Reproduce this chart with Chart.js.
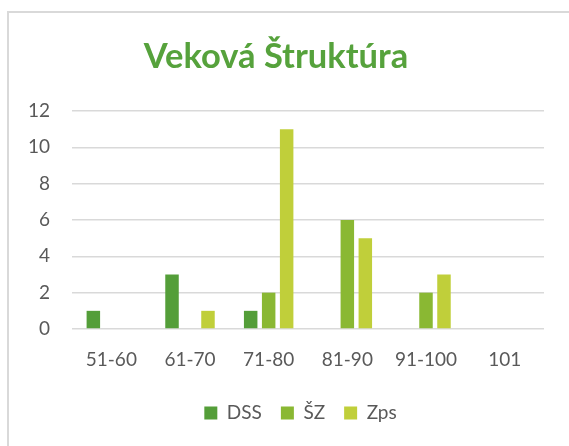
<!DOCTYPE html>
<html>
<head>
<meta charset="utf-8">
<script src="https://cdn.jsdelivr.net/npm/chart.js@4/dist/chart.umd.min.js"></script>
<style>
  html, body { margin: 0; padding: 0; background: #fff; }
  #wrap { position: relative; width: 569px; height: 446px; overflow: hidden; }
  #frame { position: absolute; left: 7px; top: 11px; width: 600px; height: 500px;
           border-top: 2px solid #D9D9D9; border-left: 2px solid #D9D9D9; box-sizing: border-box; }
  canvas { position: absolute; left: 0; top: 0; }
</style>
</head>
<body>
<div id="wrap">
  <div id="frame"></div>
  <canvas id="c" width="569" height="446"></canvas>
</div>
<script>
const chartTitle = "Veková Štruktúra";
const categories = ["51-60", "61-70", "71-80", "81-90", "91-100", "101"];
const seriesNames = ["DSS", "ŠZ", "Zps"];
const dssValues = [1, 3, 1, 0, 0, 0];
const szValues = [0, 0, 2, 6, 2, 0];
const zpsValues = [0, 1, 11, 5, 3, 0];
const yTicks = [0, 2, 4, 6, 8, 10, 12];

const colors = ["#549E39", "#8AB833", "#C0CF3A"];
const FONT = "Lato, 'Open Sans', sans-serif";

const titlePlugin = {
  id: 'customTitle',
  afterLayout(chart) {
    // let the y tick labels extend left of the (narrow) axis box without clipping
    if (chart.scales.y) chart.scales.y.left = 0;
  },
  afterDraw(chart) {
    const ctx = chart.ctx;
    ctx.save();
    ctx.font = "bold 34.5px " + FONT;
    ctx.fillStyle = "#56A23C";
    ctx.textAlign = "center";
    ctx.textBaseline = "middle";
    ctx.fillText(chartTitle, 276, 57);
    ctx.restore();
  }
};

new Chart(document.getElementById('c'), {
  type: 'bar',
  data: {
    labels: categories,
    datasets: [
      { label: seriesNames[0], data: dssValues, backgroundColor: colors[0] },
      { label: seriesNames[1], data: szValues, backgroundColor: colors[1] },
      { label: seriesNames[2], data: zpsValues, backgroundColor: colors[2] }
    ]
  },
  options: {
    responsive: false,
    animation: false,
    layout: { padding: { top: 111, left: 57, right: 25, bottom: 13.5 } },
    datasets: { bar: { categoryPercentage: 0.686, barPercentage: 0.75, borderWidth: 0 } },
    plugins: {
      title: { display: false },
      tooltip: { enabled: false },
      legend: {
        position: 'bottom',
        labels: {
          boxWidth: 13, boxHeight: 13, padding: 19,
          color: '#595959',
          font: { family: FONT, size: 19 }
        }
      }
    },
    scales: {
      x: {
        grid: { display: false, drawTicks: false },
        border: { display: false },
        ticks: { color: '#595959', font: { family: FONT, size: 19 }, padding: 19, maxRotation: 0 },
        afterFit(scale) { scale.height = 55.5; }
      },
      y: {
        min: 0, max: 12,
        afterBuildTicks(scale) { scale.ticks = yTicks.map(v => ({ value: v })); },
        grid: { color: '#D9D9D9', lineWidth: 1.5, drawTicks: false },
        border: { display: false },
        ticks: { color: '#595959', font: { family: FONT, size: 19 }, padding: 22 },
        afterFit(scale) { scale.width = 15; }
      }
    }
  },
  plugins: [titlePlugin]
});
</script>
</body>
</html>
